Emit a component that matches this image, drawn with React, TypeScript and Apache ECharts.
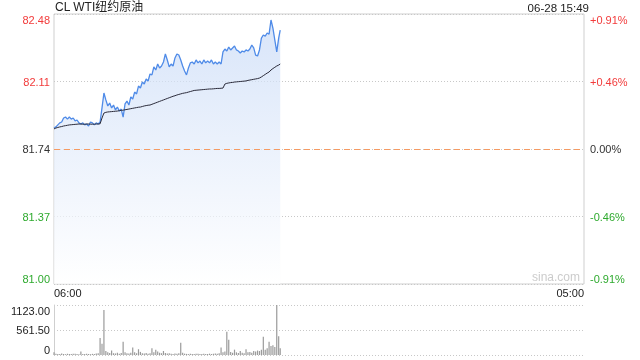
import React, { useEffect, useRef } from "react";
import * as echarts from "echarts";

const chartTitle = "CL WTI纽约原油";
const stampText = "06-28 15:49";
const watermark = "sina.com";

const times = (
  "06:00 06:05 06:10 06:15 06:20 06:25 06:30 06:35 06:40 06:45 06:50 06:55 " +
  "07:00 07:05 07:10 07:15 07:20 07:25 07:30 07:35 07:40 07:45 07:50 07:55 " +
  "08:00 08:05 08:10 08:15 08:20 08:25 08:30 08:35 08:40 08:45 08:50 08:55 " +
  "09:00 09:05 09:10 09:15 09:20 09:25 09:30 09:35 09:40 09:45 09:50 09:55 " +
  "10:00 10:05 10:10 10:15 10:20 10:25 10:30 10:35 10:40 10:45 10:50 10:55 " +
  "11:00 11:05 11:10 11:15 11:20 11:25 11:30 11:35 11:40 11:45 11:50 11:55 " +
  "12:00 12:05 12:10 12:15 12:20 12:25 12:30 12:35 12:40 12:45 12:50 12:55 " +
  "13:00 13:05 13:10 13:15 13:20 13:25 13:30 13:35 13:40 13:45 13:50 13:55 " +
  "14:00 14:05 14:10 14:15 14:20 14:25 14:30 14:35 14:40 14:45 14:50 14:55 " +
  "15:00 15:05 15:10 15:15 15:20 15:25 15:30 15:35 15:40 15:45 15:49"
).split(" ");

const prices = [
  81.855, 81.861, 81.872, 81.883, 81.888, 81.910, 81.915, 81.904, 81.915, 81.904,
  81.910, 81.894, 81.899, 81.883, 81.877, 81.883, 81.872, 81.877, 81.866, 81.888,
  81.883, 81.872, 81.883, 81.877, 81.888, 81.965, 82.047, 82.009, 81.976, 81.992,
  81.965, 81.981, 81.954, 81.970, 81.948, 81.959, 81.915, 81.987, 82.003, 81.981,
  82.025, 82.014, 82.052, 82.042, 82.085, 82.074, 82.107, 82.096, 82.124, 82.113,
  82.151, 82.146, 82.190, 82.173, 82.206, 82.184, 82.195, 82.217, 82.261, 82.228,
  82.190, 82.206, 82.195, 82.239, 82.261, 82.255, 82.228, 82.195, 82.168, 82.146,
  82.184, 82.212, 82.217, 82.206, 82.228, 82.212, 82.222, 82.206, 82.228, 82.212,
  82.222, 82.212, 82.228, 82.206, 82.217, 82.206, 82.217, 82.206, 82.272, 82.288,
  82.277, 82.299, 82.283, 82.294, 82.305, 82.283, 82.277, 82.266, 82.277, 82.272,
  82.283, 82.277, 82.288, 82.310, 82.294, 82.255, 82.250, 82.283, 82.348, 82.365,
  82.359, 82.376, 82.370, 82.447, 82.403, 82.337, 82.272, 82.348, 82.392,
];

const avgPrices = [
  81.850, 81.855, 81.858, 81.861, 81.863, 81.866, 81.868, 81.870, 81.872, 81.873,
  81.874, 81.875, 81.876, 81.877, 81.877, 81.876, 81.876, 81.877, 81.877, 81.876,
  81.876, 81.876, 81.877, 81.877, 81.878, 81.910, 81.937, 81.941, 81.943, 81.944,
  81.945, 81.946, 81.947, 81.948, 81.950, 81.952, 81.953, 81.955, 81.957, 81.959,
  81.961, 81.963, 81.965, 81.967, 81.969, 81.970, 81.973, 81.976, 81.978, 81.980,
  81.981, 81.985, 81.989, 81.993, 81.997, 82.001, 82.005, 82.009, 82.013, 82.017,
  82.021, 82.025, 82.029, 82.032, 82.036, 82.039, 82.042, 82.045, 82.047, 82.049,
  82.052, 82.055, 82.058, 82.061, 82.062, 82.063, 82.064, 82.065, 82.066, 82.067,
  82.068, 82.069, 82.069, 82.070, 82.071, 82.072, 82.072, 82.073, 82.074, 82.096,
  82.100, 82.102, 82.104, 82.105, 82.107, 82.108, 82.109, 82.110, 82.111, 82.112,
  82.113, 82.116, 82.118, 82.120, 82.122, 82.124, 82.126, 82.129, 82.135, 82.142,
  82.149, 82.156, 82.162, 82.173, 82.181, 82.188, 82.195, 82.200, 82.206,
];

const volumes = [
  60, 30, 25, 20, 35, 22, 18, 28, 24, 20,
  30, 26, 22, 18, 80, 25, 20, 30, 22, 18,
  26, 24, 35, 40, 380, 250, 1010, 90, 60, 45,
  100, 40, 35, 50, 30, 45, 300, 60, 40, 35,
  50, 170, 60, 40, 130, 70, 40, 35, 45, 30,
  40, 150, 60, 120, 80, 50, 40, 90, 45, 35,
  40, 30, 25, 35, 30, 40, 275, 50, 30, 25,
  20, 30, 25, 20, 30, 28, 22, 25, 30, 20,
  25, 30, 22, 28, 35, 30, 40, 170, 60, 80,
  525, 340, 70, 50, 120, 60, 45, 90, 50, 40,
  130, 60, 70, 50, 90, 80, 100, 90, 120, 410,
  120, 150, 300, 200, 220, 180, 1123, 420, 150,
];

const priceTicks = ["81.00", "81.37", "81.74", "82.11", "82.48"];
const pctTicks = ["-0.91%", "-0.46%", "0.00%", "+0.46%", "+0.91%"];
const volTicks = ["0", "561.50", "1123.00"];
const xLabels = ["06:00", "05:00"];
const prevClose = 81.74;
const priceMin = 81.0;
const priceStep = 0.37;
const volMax = 1123;
const sessionMinutes = 1380;

const RED = "#f23b3b";
const GREEN = "#2eaa2e";
const DARK = "#333333";
const tickColors = [GREEN, GREEN, DARK, RED, RED];

const FONT = 'Arial, "Liberation Sans", "Noto Sans CJK SC", sans-serif';

function toMinutes(t: string): number {
  const [h, m] = t.split(":").map(Number);
  return ((h - 6 + 24) % 24) * 60 + m;
}

function tickIndex(v: number): number {
  return Math.round((v - priceMin) / priceStep);
}

export default function App() {
  const ref = useRef<HTMLDivElement>(null);

  useEffect(() => {
    if (!ref.current) return;
    const chart = echarts.init(ref.current, undefined, { renderer: "svg" });
    const mins = times.map(toMinutes);
    const priceData = prices.map((p, i) => [mins[i], p]);
    const avgData = avgPrices.map((p, i) => [mins[i], p]);
    const volData = volumes.map((v, i) => [mins[i], v]);

    chart.setOption({
      animation: false,
      textStyle: { fontFamily: FONT },
      title: {
        text: chartTitle,
        left: 55,
        top: 1,
        padding: 0,
        textStyle: { fontSize: 12, fontWeight: "normal", color: "#222", fontFamily: FONT },
      },
      graphic: [
        {
          type: "text",
          right: 51,
          top: 2,
          style: { text: stampText, fontSize: 11.5, fill: "#222", fontFamily: FONT },
        },
        {
          type: "text",
          left: 532,
          top: 271,
          style: { text: watermark, fontSize: 12, fill: "#cccccc", fontFamily: FONT },
        },
      ],
      grid: [
        { left: 54, right: 56, top: 14, height: 270, show: true, borderColor: "#cfcfcf", borderWidth: 1 },
        { left: 54, right: 56, top: 305, height: 50 },
      ],
      xAxis: [
        {
          type: "value",
          gridIndex: 0,
          min: 0,
          max: sessionMinutes,
          interval: sessionMinutes,
          axisLine: { show: false },
          axisTick: { show: false },
          splitLine: { show: false },
          axisLabel: {
            margin: 3,
            fontSize: 11,
            color: "#222",
            alignMinLabel: "left",
            alignMaxLabel: "right",
            formatter: (v: number) => (v === 0 ? xLabels[0] : xLabels[1]),
          },
        },
        {
          type: "value",
          gridIndex: 1,
          min: 0,
          max: sessionMinutes,
          axisLine: { show: false },
          axisTick: { show: false },
          axisLabel: { show: false },
          splitLine: { show: false },
        },
      ],
      yAxis: [
        {
          type: "value",
          gridIndex: 0,
          min: priceMin,
          max: 82.48,
          interval: priceStep,
          axisLine: { show: false },
          axisTick: { show: false },
          splitLine: { show: true, lineStyle: { color: "#c8c8c8", type: [1, 2], width: 1 } },
          axisLabel: {
            margin: 4,
            fontSize: 11,
            verticalAlignMinLabel: "bottom",
            verticalAlignMaxLabel: "top",
            formatter: (v: number) => priceTicks[tickIndex(v)],
            color: (v: any) => tickColors[tickIndex(Number(v))],
          },
        },
        {
          type: "value",
          gridIndex: 0,
          position: "right",
          min: priceMin,
          max: 82.48,
          interval: priceStep,
          axisLine: { show: false },
          axisTick: { show: false },
          splitLine: { show: false },
          axisLabel: {
            margin: 6,
            fontSize: 11,
            verticalAlignMinLabel: "bottom",
            verticalAlignMaxLabel: "top",
            formatter: (v: number) => pctTicks[tickIndex(v)],
            color: (v: any) => tickColors[tickIndex(Number(v))],
          },
        },
        {
          type: "value",
          gridIndex: 1,
          min: 0,
          max: volMax,
          interval: volMax / 2,
          axisLine: { show: true, lineStyle: { color: "#cfcfcf" } },
          axisTick: { show: false },
          splitLine: { show: true, lineStyle: { color: "#c8c8c8", type: [1, 2], width: 1 } },
          axisLabel: {
            margin: 4,
            fontSize: 11,
            color: "#222",
            verticalAlignMinLabel: "bottom",
            verticalAlignMaxLabel: "top",
            formatter: (v: number) => volTicks[Math.round(v / (volMax / 2))],
          },
        },
      ],
      series: [
        {
          type: "line",
          xAxisIndex: 0,
          yAxisIndex: 0,
          data: priceData,
          showSymbol: false,
          symbol: "none",
          lineStyle: { color: "#4f8be8", width: 1.3 },
          areaStyle: {
            color: new echarts.graphic.LinearGradient(0, 0, 0, 1, [
              { offset: 0, color: "#c8daf7" },
              { offset: 0.5, color: "#e4edfb" },
              { offset: 1, color: "#ffffff" },
            ]),
          },
          markLine: {
            silent: true,
            symbol: "none",
            label: { show: false },
            lineStyle: { color: "#f59a62", type: [6, 4], width: 1, opacity: 1 },
            data: [{ yAxis: prevClose }],
            z: 10,
          },
          z: 3,
        },
        {
          type: "line",
          xAxisIndex: 0,
          yAxisIndex: 0,
          data: avgData,
          showSymbol: false,
          symbol: "none",
          lineStyle: { color: "#2b2b3a", width: 1 },
          z: 4,
        },
        {
          type: "bar",
          xAxisIndex: 1,
          yAxisIndex: 2,
          data: volData,
          barWidth: 1.2,
          itemStyle: { color: "#9a9a9a" },
        },
      ],
    });
    return () => chart.dispose();
  }, []);

  return (
    <div
      ref={ref}
      style={{ position: "fixed", left: 0, top: 0, width: 640, height: 360 }}
    />
  );
}
